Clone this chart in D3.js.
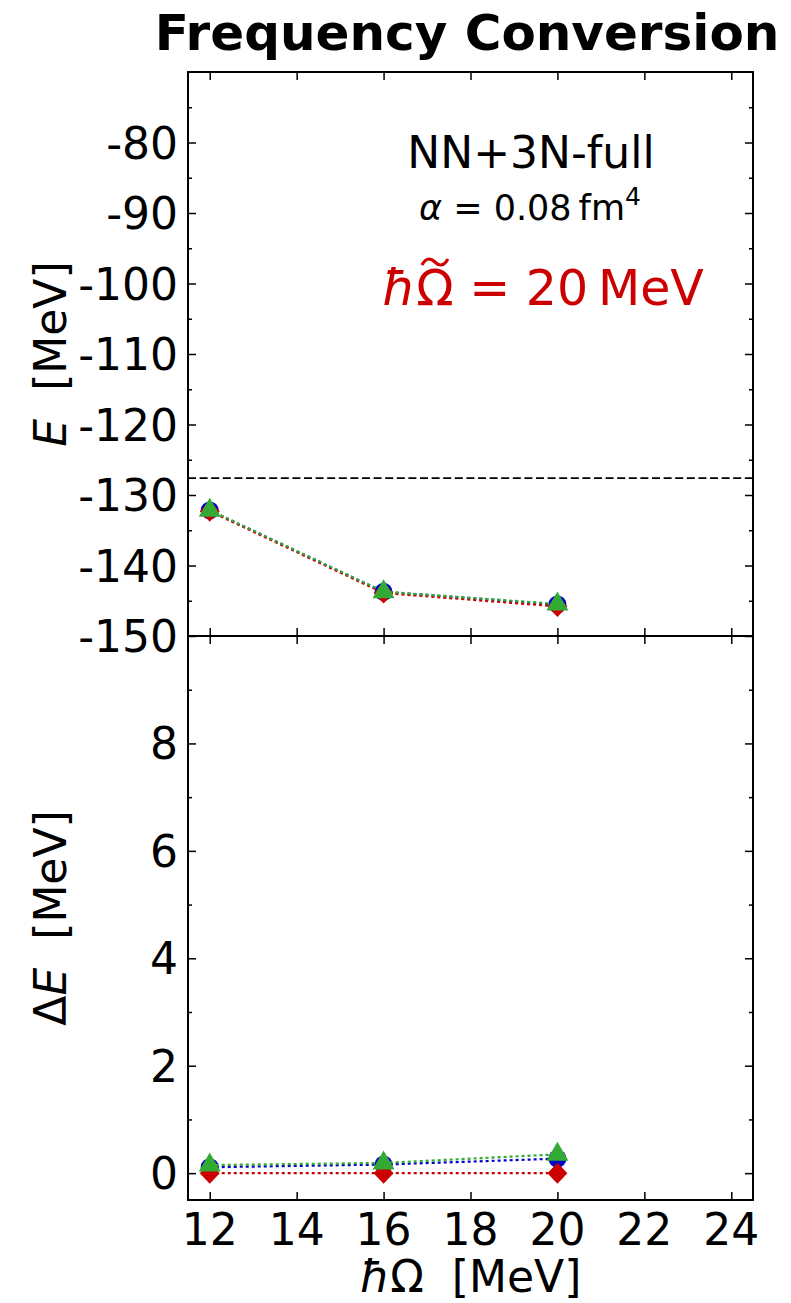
<!DOCTYPE html>
<html>
<head>
<meta charset="utf-8">
<script src="https://d3js.org/d3.v7.min.js"></script>
<style>
    body { margin: 0; background: #fff; }
    svg { display: block; font-family: "DejaVu Sans", sans-serif; }
</style>
</head>
<body>
<svg id="chart" width="791" height="1303"></svg>
<script>
// data
const hbarOmega = [12, 16, 20];
const energyRed   = [-132.30, -143.90, -145.80];
const energyBlue  = [-132.19, -143.74, -145.53];
const energyGreen = [-132.15, -143.71, -145.45];
const deltaRed   = [0, 0, 0];
const deltaBlue  = [0.11, 0.16, 0.27];
const deltaGreen = [0.15, 0.19, 0.35];
const expLine = -127.6;

const xTicks = [12, 14, 16, 18, 20, 22, 24];
const topMajor = [-150, -140, -130, -120, -110, -100, -90, -80];
const topMinor = [-145, -135, -125, -115, -105, -95, -85, -75];
const botMajor = [0, 2, 4, 6, 8];
const botMinor = [1, 3, 5, 7, 9];

const RED = "#cc0000", BLUE = "#0000cc", GREEN = "#33aa33";

const svg = d3.select("#chart");
const L = 188, R = 753, T = 72, M = 636, B = 1200;

const x = d3.scaleLinear().domain([11.5, 24.5]).range([L, R]);
const yTop = d3.scaleLinear().domain([-150, -70]).range([M, T]);
const yBot = d3.scaleLinear().domain([-0.5, 10]).range([B, M]);

function panel(y, major, minor, y0, y1, labels) {
    const g = svg.append("g");
    g.append("g").attr("transform", `translate(${L},0)`)
        .call(d3.axisRight(y).tickValues(major).tickSize(8).tickFormat(""));
    g.append("g").attr("transform", `translate(${L},0)`)
        .call(d3.axisRight(y).tickValues(minor).tickSize(4).tickFormat(""));
    g.append("g").attr("transform", `translate(${R},0)`)
        .call(d3.axisLeft(y).tickValues(major).tickSize(8).tickFormat(""));
    g.append("g").attr("transform", `translate(${R},0)`)
        .call(d3.axisLeft(y).tickValues(minor).tickSize(4).tickFormat(""));
    g.append("g").attr("transform", `translate(0,${y0})`)
        .call(d3.axisBottom(x).tickValues(xTicks).tickSize(8).tickFormat(""));
    g.append("g").attr("transform", `translate(0,${y1})`)
        .call(d3.axisTop(x).tickValues(xTicks).tickSize(8).tickFormat(""));
    g.selectAll(".domain").remove();
    g.selectAll(".tick line").attr("stroke", "#000").attr("stroke-width", 1.5);
    g.selectAll("text.yl").data(labels).join("text")
        .attr("class", "yl")
        .attr("x", L - 10)
        .attr("y", d => y(d) + 16)
        .attr("text-anchor", "end")
        .attr("font-size", 44)
        .text(d => d);
    return g;
}

panel(yTop, topMajor, topMinor, T, M, topMajor);
panel(yBot, botMajor, botMinor, M, B, botMajor);

svg.selectAll("text.xl").data(xTicks).join("text")
    .attr("class", "xl")
    .attr("x", d => x(d))
    .attr("y", B + 45)
    .attr("text-anchor", "middle")
    .attr("font-size", 44)
    .text(d => d);

// experimental line
svg.append("line")
    .attr("x1", L).attr("x2", R)
    .attr("y1", yTop(expLine)).attr("y2", yTop(expLine))
    .attr("stroke", "#000").attr("stroke-width", 1.8)
    .attr("stroke-dasharray", "8,3.6");

// marker shapes (centred on the data point)
const triPath = "M0,-12.5L11,6.5L-11,6.5Z";
const diaPath = "M0,-10.5L10,0L0,10.5L-10,0Z";

function series(y, vals, color, shape) {
    const pts = hbarOmega.map((h, i) => [x(h), y(vals[i])]);
    svg.append("path")
        .attr("d", d3.line()(pts))
        .attr("fill", "none")
        .attr("stroke", color)
        .attr("stroke-width", 2.2)
        .attr("stroke-dasharray", "3,3");
    const g = svg.append("g");
    pts.forEach(p => {
        if (shape === "circle") {
            g.append("circle").attr("cx", p[0]).attr("cy", p[1]).attr("r", 9).attr("fill", color);
        } else {
            g.append("path").attr("d", shape === "diamond" ? diaPath : triPath)
                .attr("transform", `translate(${p[0]},${p[1]})`).attr("fill", color);
        }
    });
}

series(yTop, energyBlue, BLUE, "circle");
series(yTop, energyRed, RED, "diamond");
series(yTop, energyGreen, GREEN, "triangle");
series(yBot, deltaBlue, BLUE, "circle");
series(yBot, deltaRed, RED, "diamond");
series(yBot, deltaGreen, GREEN, "triangle");

// frame
svg.append("rect").attr("x", L).attr("y", T).attr("width", R - L).attr("height", B - T)
    .attr("fill", "none").attr("stroke", "#000").attr("stroke-width", 2);
svg.append("line").attr("x1", L).attr("x2", R).attr("y1", M).attr("y2", M)
    .attr("stroke", "#000").attr("stroke-width", 2);

// title
svg.append("text").attr("x", 467).attr("y", 50).attr("text-anchor", "middle")
    .attr("font-size", 50).attr("font-weight", "bold").text("Frequency Conversion");

// annotations
svg.append("text").attr("x", 531).attr("y", 168).attr("text-anchor", "middle")
    .attr("font-size", 44).text("NN+3N-full");
const alpha = svg.append("text").attr("x", 530).attr("y", 220).attr("text-anchor", "middle")
    .attr("font-size", 35);
alpha.append("tspan").attr("font-style", "italic").text("α");
alpha.append("tspan").text(" = 0.08\u2009fm");
alpha.append("tspan").attr("dy", -15).attr("font-size", 25).text("4");

const hw = svg.append("text").attr("x", 543).attr("y", 305).attr("text-anchor", "middle")
    .attr("font-size", 49).attr("fill", RED);
hw.append("tspan").attr("font-style", "italic").text("ħ");
hw.append("tspan").text("Ω = 20\u2009MeV");
// tilde accent over the Omega
const om = hw.node().getExtentOfChar(1);
const cx = om.x + om.width / 2, ty = 262;
svg.append("path")
    .attr("d", `M${cx - 13},${ty + 3}C${cx - 8},${ty - 6} ${cx - 3},${ty - 3} ${cx},${ty}S${cx + 8},${ty + 6} ${cx + 13},${ty - 3}`)
    .attr("fill", "none")
    .attr("stroke", RED)
    .attr("stroke-width", 3.2);

// axis labels
const yl1 = svg.append("text").attr("transform", `translate(66,${(T + M) / 2}) rotate(-90)`)
    .attr("text-anchor", "middle").attr("font-size", 44);
yl1.append("tspan").attr("font-style", "italic").text("E");
yl1.append("tspan").text("\u00a0\u00a0[MeV]");

const yl2 = svg.append("text").attr("transform", `translate(66,${(M + B) / 2}) rotate(-90)`)
    .attr("text-anchor", "middle").attr("font-size", 44);
yl2.append("tspan").text("Δ");
yl2.append("tspan").attr("font-style", "italic").text("E");
yl2.append("tspan").text("\u00a0\u00a0[MeV]");

const xl = svg.append("text").attr("x", (L + R) / 2).attr("y", 1292)
    .attr("text-anchor", "middle").attr("font-size", 44);
xl.append("tspan").attr("font-style", "italic").text("ħ");
xl.append("tspan").text("Ω\u00a0\u00a0[MeV]");
</script>
</body>
</html>
